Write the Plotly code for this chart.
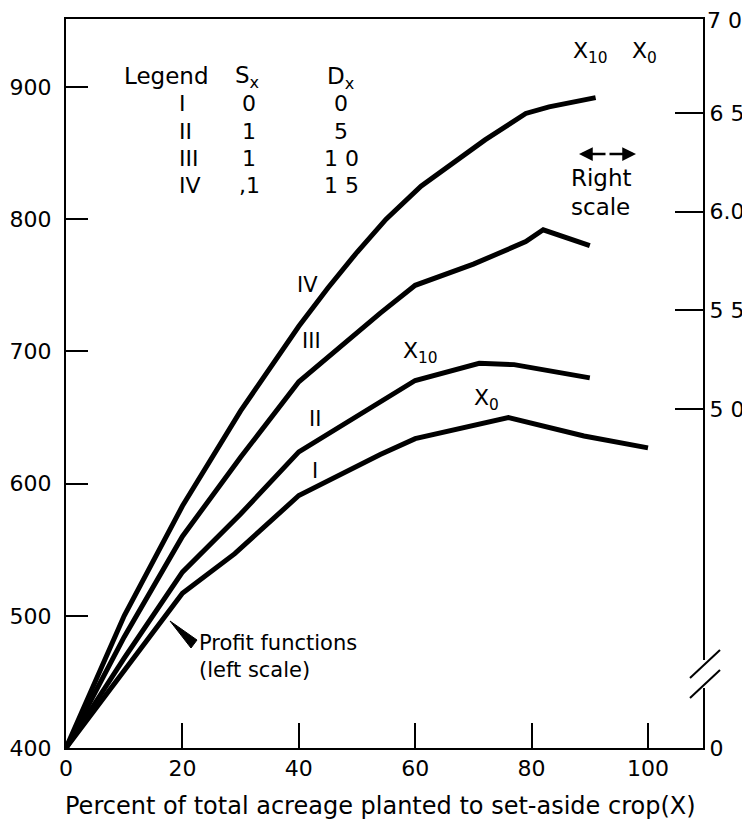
import plotly.graph_objects as go

# ---- data ----
x_I = [0, 10, 20, 29, 40, 54, 60, 76, 89, 100]
y_I = [400, 458, 517, 547, 591, 622, 634, 650, 636, 627]

x_II = [0, 10, 20, 30, 40, 54, 60, 71, 77, 90]
y_II = [400, 468, 533, 577, 624, 662, 678, 691, 690, 680]

x_III = [0, 10, 20, 30, 40, 54, 60, 70, 79, 82, 90]
y_III = [400, 484, 560, 620, 677, 729, 750, 766, 783, 792, 780]

x_IV = [0, 10, 20, 30, 40, 45, 50, 55, 61, 66, 72, 79, 83, 91]
y_IV = [400, 500, 583, 655, 719, 748, 775, 800, 825, 841, 860, 880, 885, 892]

x_ticks = [0, 20, 40, 60, 80, 100]
left_ticks = [400, 500, 600, 700, 800, 900]
right_ticks = [3.283, 5.0, 5.5, 6.0, 6.5]
right_ticktext = ["0", "5 0", "5 5", "6.0", "6 5"]
right_top_value = 6.976
right_top_text = "7 0"

legend_names = ["I", "II", "III", "IV"]
legend_sx = ["0", "1", "1", ",1"]
legend_dx = ["0", "5", "1 0", "1 5"]

FONT = "DejaVu Sans, Liberation Sans, Arial, sans-serif"

# page offset (browser body margin) and plot area in screenshot pixels
OFF = 8
L, R, T, B = 66, 703, 19, 748
W, H = 750 - OFF, 824 - OFF


def pp(x, y):
    return (x - L) / (R - L), (B - y) / (B - T)


fig = go.Figure()
for xs, ys in [(x_I, y_I), (x_II, y_II), (x_III, y_III), (x_IV, y_IV)]:
    fig.add_trace(go.Scatter(x=xs, y=ys, mode="lines",
                             line=dict(color="black", width=5),
                             showlegend=False, hoverinfo="skip"))
# trace to activate the right axis (nothing drawn)
fig.add_trace(go.Scatter(x=[None] * len(right_ticks), y=right_ticks, yaxis="y2",
                         mode="lines", showlegend=False, hoverinfo="skip"))

ann = []


def text(px_, py_, s, size=22, xanchor="center", yanchor="middle", align="center"):
    x, y = pp(px_, py_)
    ann.append(dict(x=x, y=y, xref="paper", yref="paper", text=s, showarrow=False,
                    xanchor=xanchor, yanchor=yanchor, align=align,
                    font=dict(family=FONT, size=size, color="black")))


# legend table
text(166, 76, "Legend", 23)
text(247, 77, "S<sub>x</sub>", 23)
text(340, 78, "D<sub>x</sub>", 23)
row_y = [104, 131, 158, 185]
for i, name in enumerate(legend_names):
    text(177, row_y[i], name, 22, xanchor="left")
    text(249, row_y[i], legend_sx[i], 22)
    text(341, row_y[i], legend_dx[i], 22)

# curve labels
text(307, 285, "IV", 21)
text(311, 341, "III", 21)
text(315, 419, "II", 21)
text(315, 471, "I", 21)
text(420, 352, "X<sub>10</sub>", 22)
text(486, 400, "X<sub>0</sub>", 22)
text(590, 53, "X<sub>10</sub>", 22)
text(644, 53, "X<sub>0</sub>", 22)
text(601, 178, "Right", 23)
text(600, 207, "scale", 23)
text(197, 656, "Profit functions<br>(left scale)", 21, xanchor="left", align="left")

# x-axis title
text(380, 806, "Percent of total acreage planted to set-aside crop(X)", 24)

# top label of the right scale
ann.append(dict(x=1, y=right_top_value, xref="paper", yref="y2", text=right_top_text,
                showarrow=False, xanchor="left", yanchor="middle", xshift=2, yshift=-1,
                font=dict(family=FONT, size=22, color="black")))

# double arrow
for tip, off in [(636, -28), (579, 28)]:
    x, y = pp(tip, 154)
    ann.append(dict(x=x, y=y, xref="paper", yref="paper", text="", showarrow=True,
                    ax=off, ay=0, arrowhead=2, arrowsize=1.1, arrowwidth=2.5,
                    arrowcolor="black"))

shapes = []
# axis break
x0, y0 = pp(700, 688)
x1, y1 = pp(707, 660)
shapes.append(dict(type="rect", xref="paper", yref="paper", x0=x0, y0=y0, x1=x1, y1=y1,
                   fillcolor="white", line=dict(width=0), layer="above"))
for (a, b, c, d) in [(690, 678, 720, 650), (690, 698, 720, 670)]:
    xa, ya = pp(a, b)
    xb, yb = pp(c, d)
    shapes.append(dict(type="line", xref="paper", yref="paper", x0=xa, y0=ya, x1=xb, y1=yb,
                       line=dict(color="black", width=2), layer="above"))
# pointer wedge for "Profit functions"
p1, p2, p3 = pp(170, 621), pp(197, 640), pp(191, 648)
shapes.append(dict(type="path", xref="paper", yref="paper",
                   path=f"M {p1[0]},{p1[1]} L {p2[0]},{p2[1]} L {p3[0]},{p3[1]} Z",
                   fillcolor="black", line=dict(color="black", width=1)))

axis_common = dict(showgrid=False, zeroline=False, showline=True, linecolor="black",
                   linewidth=2, ticks="inside", tickcolor="black", tickwidth=2,
                   automargin=False,
                   tickfont=dict(family=FONT, size=22, color="black"))

fig.update_layout(
    template="none",
    width=W, height=H,
    margin=dict(l=L - OFF, r=W - (R - OFF), t=T - OFF, b=H - (B - OFF), autoexpand=False),
    paper_bgcolor="white", plot_bgcolor="white",
    xaxis=dict(range=[0, (R - L) / 5.82], tickvals=x_ticks, ticklen=25, mirror=True,
               **axis_common),
    yaxis=dict(range=[400, 400 + (B - T) / 1.322], tickvals=left_ticks, ticklen=22,
               mirror=True, ticklabelstandoff=8, **axis_common),
    yaxis2=dict(overlaying="y", side="right", range=[3.282, 6.977],
                tickvals=right_ticks, ticktext=right_ticktext, ticklen=28,
                **axis_common),
    annotations=ann, shapes=shapes,
)

fig.write_html("out.html")
